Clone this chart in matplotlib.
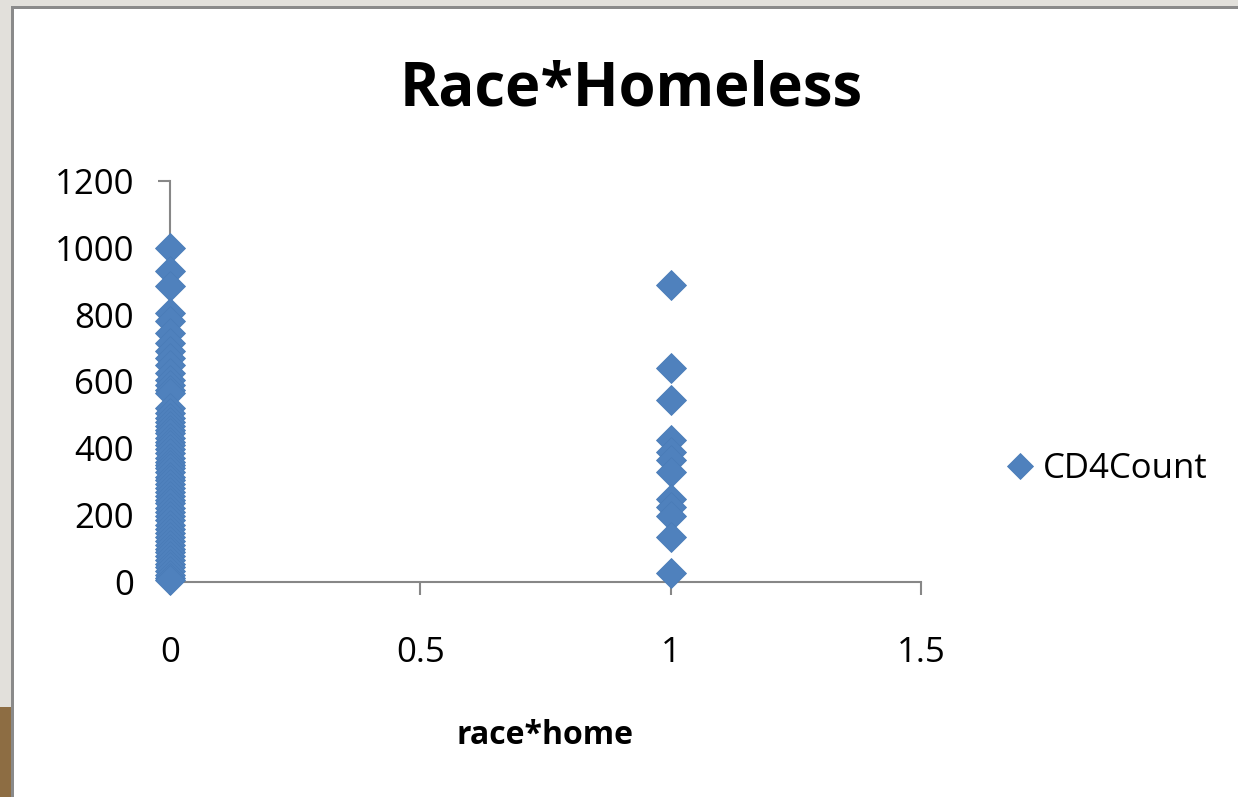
import matplotlib.pyplot as plt
from matplotlib.patches import Rectangle

W, H = 1238, 797
plt.rcParams['font.family'] = ['Open Sans', 'DejaVu Sans']

# CD4 counts for race*home == 0
cd4_home0 = [999, 930, 885, 805, 780, 745, 715, 690, 670, 650, 625, 605, 590,
             575, 565, 520, 505, 490, 480, 468, 455, 445, 432, 420, 410, 398,
             385, 372, 360, 350, 340, 328, 315, 305, 292, 280, 270, 258, 245,
             235, 222, 210, 198, 185, 172, 160, 148, 136, 124, 112, 100, 90,
             78, 66, 55, 44, 32, 22, 12, 5]
# CD4 counts for race*home == 1
cd4_home1 = [890, 640, 545, 425, 390, 365, 330, 248, 225, 198, 135, 27]

xticks = [0, 0.5, 1, 1.5]
xtick_labels = ['0', '0.5', '1', '1.5']
yticks = [0, 200, 400, 600, 800, 1000, 1200]

blue = '#4f81bd'
grey = '#878787'

fig = plt.figure(figsize=(W / 100, H / 100), dpi=100)
fig.patch.set_facecolor('#e2e0db')

def px_rect(x, y, w, h, **kw):
    # rectangle given in pixel coords from the top-left corner
    r = Rectangle((x / W, 1 - (y + h) / H), w / W, h / H,
                  transform=fig.transFigure, zorder=-10, **kw)
    fig.add_artist(r)

px_rect(0, 707, 11, 90, facecolor='#8d6d43', edgecolor='none')
px_rect(11, 6, W, H, facecolor='#8a8a8a', edgecolor='none')
px_rect(14, 9, W, H, facecolor='white', edgecolor='none')

ax = fig.add_axes([170 / W, 1 - 582 / H, 751 / W, 401 / H])
ax.set_facecolor('none')

xs = [0] * len(cd4_home0) + [1] * len(cd4_home1)
ys = cd4_home0 + cd4_home1
ax.plot(xs, ys, linestyle='none', marker='D', markersize=15,
        markerfacecolor=blue, markeredgecolor='#4a7cb8', markeredgewidth=0.6,
        clip_on=False, zorder=3, label='CD4Count')

ax.set_xlim(0, 1.5)
ax.set_ylim(0, 1200)
ax.set_xticks(xticks)
ax.set_xticklabels(xtick_labels)
ax.set_yticks(yticks)

for s in ['top', 'right']:
    ax.spines[s].set_visible(False)
for s in ['left', 'bottom']:
    ax.spines[s].set_color(grey)
    ax.spines[s].set_linewidth(1.5)

ax.tick_params(axis='both', direction='out', length=9, width=1.5,
               color=grey, labelsize=25, labelcolor='black')
ax.tick_params(axis='x', pad=30)
ax.tick_params(axis='y', pad=17)

ax.legend(loc='center left', bbox_to_anchor=(1.118, 0.282), frameon=False,
          fontsize=25, handlelength=0.6, handletextpad=0.35, borderpad=0,
          borderaxespad=0, numpoints=1, markerscale=0.9)

fig.text(631 / W, 1 - 106 / H, 'Race*Homeless', ha='center', va='baseline',
         fontsize=43, fontweight='bold')
fig.text(545 / W, 1 - 744 / H, 'race*home', ha='center', va='baseline',
         fontsize=23, fontweight='bold')

fig.savefig('out.png', dpi=100, facecolor=fig.get_facecolor())
